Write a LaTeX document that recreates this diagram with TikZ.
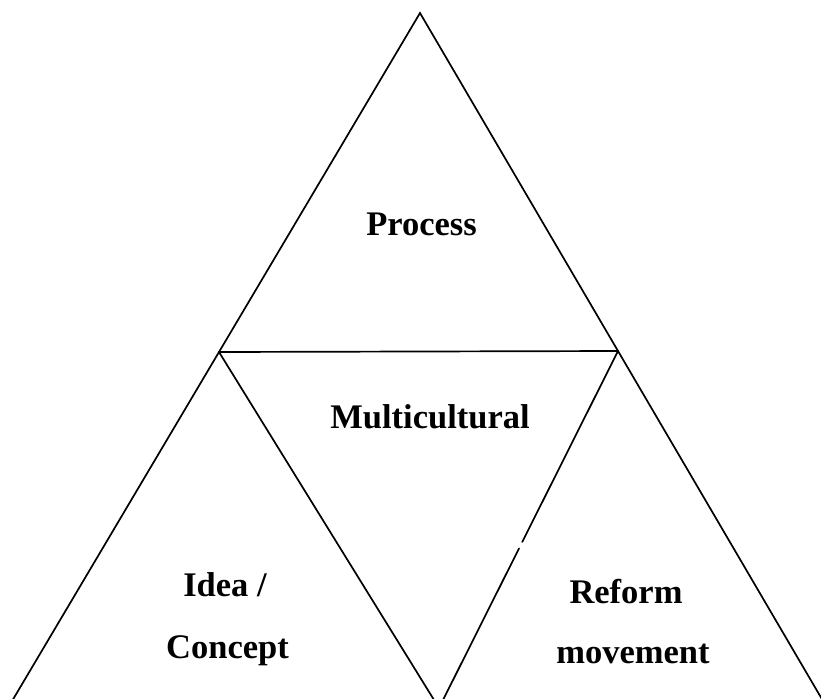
\documentclass[tikz,border=0pt]{standalone}
\usepackage{fontspec}
\setmainfont{Liberation Serif}
\usepackage{tikz}
\usetikzlibrary{calc}

\tikzset{
  word/.style={anchor=base,inner sep=0pt,font=\fontsize{34.5}{40}\selectfont\bfseries},
  side/.style={line width=1.7pt,line cap=round}
}

\begin{document}
\begin{tikzpicture}[x=1pt,y=-1pt]
\useasboundingbox (0,0) rectangle (821,698);
\clip (0,0) rectangle (821,698);
% corners of the big triangle and the inner one
\coordinate (apex) at (420,13);
\coordinate (lmid) at (219,352);
\coordinate (rmid) at (618,351);
\coordinate (lbot) at ($(apex)!2.1!(lmid)$);
\coordinate (rbot) at ($(apex)!2.1!(rmid)$);
\coordinate (ibot) at (439,708);
\coordinate (gapa) at ($(rmid)!0.535!(ibot)$);
\coordinate (gapb) at ($(rmid)!0.553!(ibot)$);

\draw[side] (lbot) -- (apex) -- (rbot);
\draw[side] (lmid) -- (rmid);
\draw[side] (lmid) -- (ibot);
\draw[side] (rmid) -- (gapa) (gapb) -- (ibot);

\node[word] (process) at (421.5,235) {Process};
\node[word] (multi) at (430,428) {Multicultural};
\node[word] (idea) at (225,596) {Idea /};
\node[word] (concept) at (227.5,658) {Concept};
\node[word] (reform) at (626,603) {Reform};
\node[word] (movement) at (633,663) {movement};
\end{tikzpicture}
\end{document}
